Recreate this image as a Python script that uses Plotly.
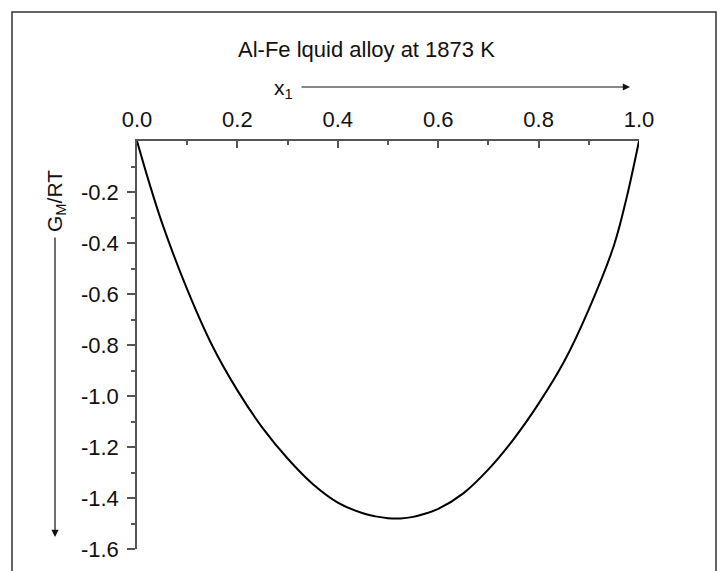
import plotly.graph_objects as go

x_frac = [0, 0.025, 0.05, 0.1, 0.15, 0.2, 0.25, 0.3, 0.35, 0.4, 0.45, 0.475, 0.5, 0.525,
          0.55, 0.575, 0.6, 0.65, 0.7, 0.75, 0.8, 0.85, 0.9, 0.95, 0.975, 1.0]
gm_rt = [0, -0.168, -0.322, -0.582, -0.803, -0.978, -1.125, -1.245, -1.345, -1.418, -1.46, -1.472,
         -1.479, -1.480, -1.474, -1.461, -1.443, -1.382, -1.288, -1.17, -1.03, -0.868, -0.66,
         -0.41, -0.225, 0]

x_ticks = [0.0, 0.2, 0.4, 0.6, 0.8, 1.0]
x_ticklabels = ["0.0", "0.2", "0.4", "0.6", "0.8", "1.0"]
y_ticks = [-0.2, -0.4, -0.6, -0.8, -1.0, -1.2, -1.4, -1.6]
y_ticklabels = ["-0.2", "-0.4", "-0.6", "-0.8", "-1.0", "-1.2", "-1.4", "-1.6"]

FONT = "Arial, Liberation Sans, sans-serif"
AX = "#555555"
TXT = "#111111"

fig = go.Figure()
fig.add_trace(go.Scatter(x=x_frac, y=gm_rt, mode="lines",
                         line=dict(color="black", width=2, shape="spline", smoothing=1.0),
                         showlegend=False, hoverinfo="skip"))

OFF = 8  # browser body margin
W, H = 728 - OFF, 571 - OFF
L, T = 137 - OFF, 141 - OFF
pw, ph = 502, 408
R = W - L - pw
B = H - T - ph

def px(xp):
    return (xp - OFF - L) / pw

def py(yp):
    return (T + ph - (yp - OFF)) / ph

fig.update_layout(
    width=W, height=H,
    margin=dict(l=L, r=R, t=T, b=B, pad=0),
    paper_bgcolor="white", plot_bgcolor="white",
    font=dict(family=FONT, size=22, color=TXT),
    xaxis=dict(side="top", range=[0, 1], tickvals=x_ticks, ticktext=x_ticklabels,
               ticks="inside", ticklen=7, tickwidth=1.5, tickcolor=AX,
               minor=dict(tickvals=[0.1, 0.3, 0.5, 0.7, 0.9], ticks="inside", ticklen=4,
                          tickwidth=1.5, tickcolor=AX),
               showline=True, linecolor=AX, linewidth=1.5, showgrid=False, zeroline=False,
               ticklabelstandoff=3, fixedrange=True, automargin=False),
    yaxis=dict(range=[-1.6, 0], tickvals=y_ticks, ticktext=y_ticklabels,
               ticks="outside", ticklen=8, tickwidth=1.5, tickcolor=AX,
               minor=dict(tickvals=[-0.1, -0.3, -0.5, -0.7, -0.9, -1.1, -1.3, -1.5],
                          ticks="outside", ticklen=4, tickwidth=1.5, tickcolor=AX),
               showline=True, linecolor=AX, linewidth=1.5, showgrid=False, zeroline=False,
               ticklabelstandoff=4, fixedrange=True, automargin=False),
)

# figure border (bottom edge runs off the page)
fig.add_shape(type="rect", xref="paper", yref="paper",
              x0=px(12), x1=px(716), y0=py(590), y1=py(12),
              line=dict(color="#333333", width=1.5), layer="below")

# title
fig.add_annotation(text="Al-Fe lquid alloy at 1873 K", xref="paper", yref="paper",
                   x=px(366), y=py(35), showarrow=False,
                   font=dict(family=FONT, size=22, color=TXT))

# x-axis title and arrow
fig.add_annotation(text="x<sub>1</sub>", xref="paper", yref="paper",
                   x=px(295), y=py(74), showarrow=False, xanchor="right",
                   font=dict(family=FONT, size=21, color=TXT))
fig.add_annotation(text="", xref="paper", yref="paper", axref="pixel", ayref="pixel",
                   x=px(630), y=py(87), ax=300 - 630, ay=0,
                   showarrow=True, arrowhead=2, arrowsize=1.2, arrowwidth=1.2, arrowcolor=TXT)

# y-axis title and arrow
fig.add_annotation(text="G<sub>M</sub>/RT", xref="paper", yref="paper",
                   x=px(41), y=py(168), showarrow=False, textangle=-90,
                   font=dict(family=FONT, size=21, color=TXT))
fig.add_annotation(text="", xref="paper", yref="paper", axref="pixel", ayref="pixel",
                   x=px(55), y=py(537), ax=0, ay=236 - 537,
                   showarrow=True, arrowhead=2, arrowsize=1.2, arrowwidth=1.2, arrowcolor=TXT)

fig.write_html("out.html")
